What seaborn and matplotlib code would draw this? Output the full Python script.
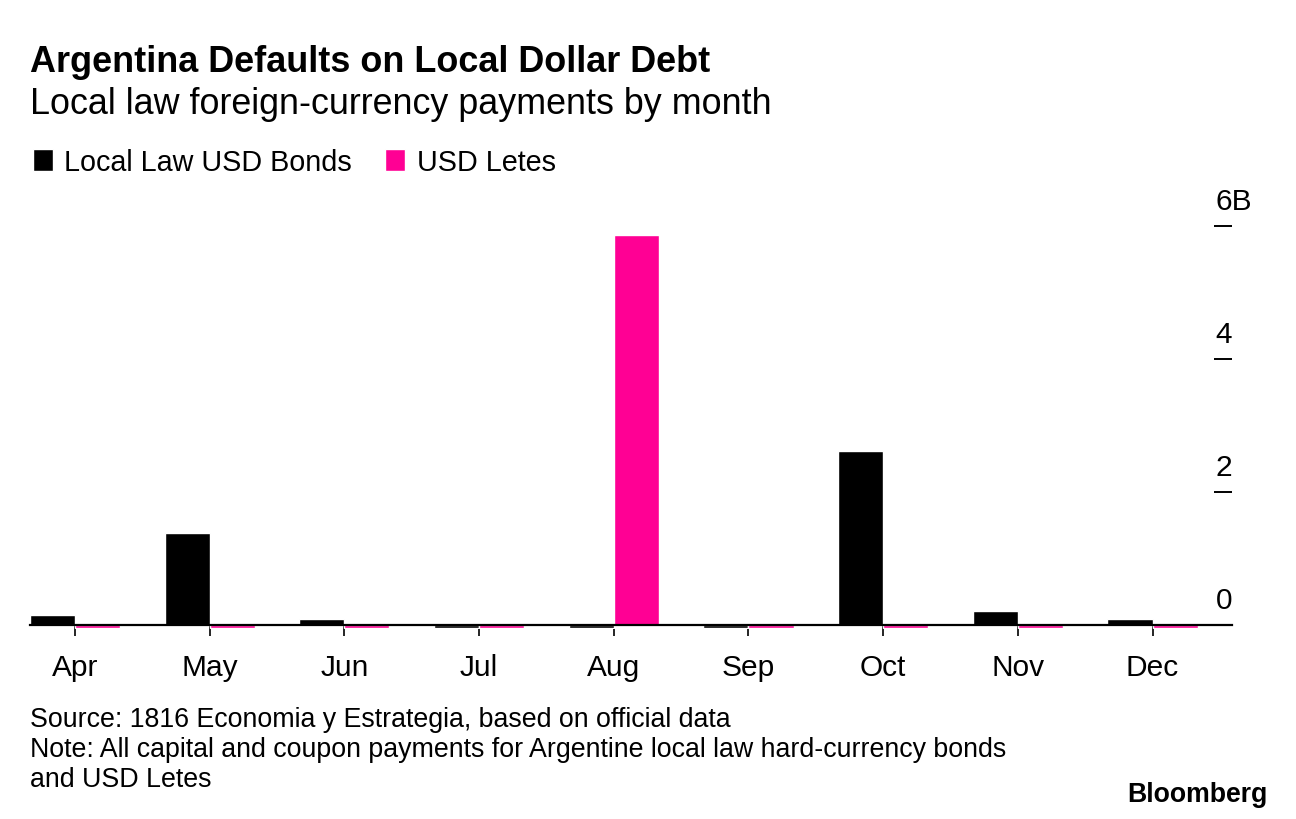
import pandas as pd
import matplotlib.pyplot as plt
import seaborn as sns

months = ["Apr", "May", "Jun", "Jul", "Aug", "Sep", "Oct", "Nov", "Dec"]
bonds = [0.15, 1.38, 0.09, -0.04, -0.04, -0.04, 2.62, 0.21, 0.09]
letes = [-0.04, -0.04, -0.04, -0.04, 5.86, -0.04, -0.04, -0.04, -0.04]
series_names = ["Local Law USD Bonds", "USD Letes"]
y_ticks = [0, 2, 4, 6]
y_tick_labels = ["0", "2", "4", "6B"]

df = pd.DataFrame({
    "month": months * 2,
    "value": bonds + letes,
    "series": [series_names[0]] * len(months) + [series_names[1]] * len(months),
})

sns.set_theme(style="white")
plt.rcParams["font.family"] = ["Liberation Sans", "DejaVu Sans"]
plt.rcParams["text.color"] = "black"

fig = plt.figure(figsize=(12.96, 8.2), dpi=100)
ax = fig.add_axes([30 / 1296, 190 / 820, 1202 / 1296, 423 / 820])

sns.barplot(data=df, x="month", y="value", hue="series",
            palette=["#000000", "#ff0094"], width=0.67, saturation=1,
            dodge=True, ax=ax, legend=True)

ax.set_xlim(-0.334, 8.59)
ax.set_ylim(-0.06, 6.3)
ax.set_xlabel("")
ax.set_ylabel("")

for s in ["top", "left", "right"]:
    ax.spines[s].set_visible(False)
ax.spines["bottom"].set_position(("data", 0))
ax.spines["bottom"].set_color("black")
ax.spines["bottom"].set_linewidth(1.6)

ax.tick_params(axis="x", bottom=True, length=8, width=1.2, color="black",
               labelsize=21.5, pad=12, labelcolor="black")
ax.yaxis.tick_right()
ax.set_yticks(y_ticks)
ax.tick_params(axis="y", right=True, direction="in", length=13, width=1.4,
               color="black", labelright=False)
for v, lbl in zip(y_ticks, y_tick_labels):
    ax.annotate(lbl, xy=(0.9865, v), xycoords=ax.get_yaxis_transform(),
                xytext=(0, 8), textcoords="offset points",
                ha="left", va="bottom", fontsize=21.5, color="black")

handles, labels = ax.get_legend_handles_labels()
ax.legend(handles, labels, loc="center left", bbox_to_anchor=(21 / 1296, 1 - 163 / 820),
          bbox_transform=fig.transFigure, ncol=2, frameon=False, fontsize=20.7,
          handlelength=0.7, handleheight=0.75, handletextpad=0.4,
          columnspacing=1.15, borderaxespad=0, labelcolor="black")

fig.text(30 / 1296, 1 - 62 / 820, "Argentina Defaults on Local Dollar Debt",
         fontsize=25.9, fontweight="bold", va="center", ha="left")
fig.text(30 / 1296, 1 - 104 / 820, "Local law foreign-currency payments by month",
         fontsize=25.8, va="center", ha="left")
footer = ["Source: 1816 Economia y Estrategia, based on official data",
          "Note: All capital and coupon payments for Argentine local law hard-currency bonds",
          "and USD Letes"]
for i, line in enumerate(footer):
    fig.text(30 / 1296, 1 - (720 + 30 * i) / 820, line,
             fontsize=19.3, va="center", ha="left")
fig.text(1268 / 1296, 1 - 795 / 820, "Bloomberg", fontsize=19.2, fontweight="bold",
         va="center", ha="right")

plt.savefig("out.png", dpi=100)
plt.close()
